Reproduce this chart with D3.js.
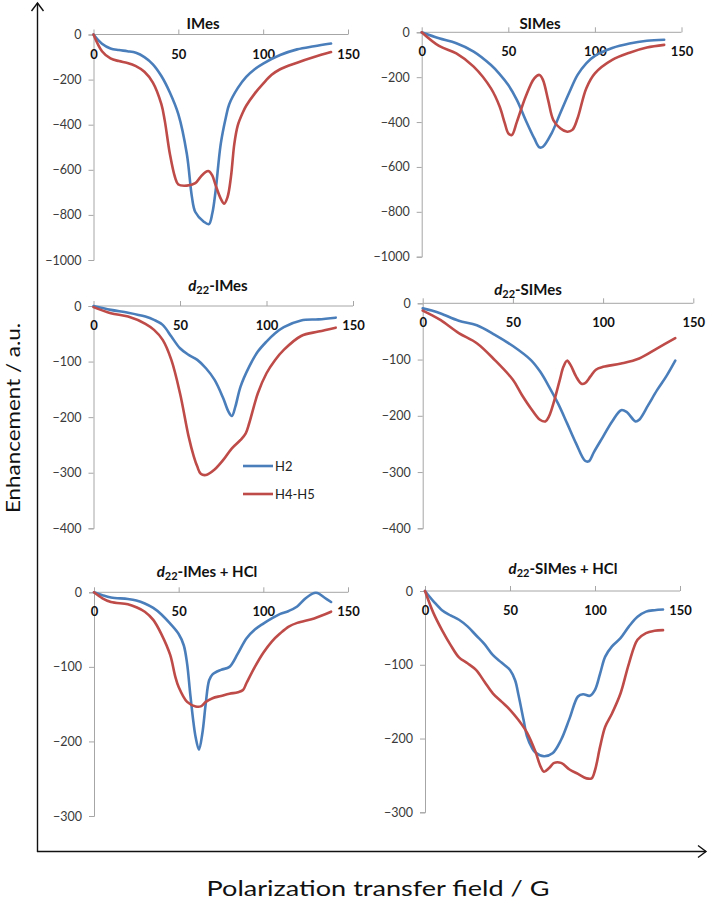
<!DOCTYPE html>
<html>
<head>
<meta charset="utf-8">
<script src="https://cdn.jsdelivr.net/npm/d3@7"></script>
<style>
  html, body { margin: 0; padding: 0; background: #fff; }
  svg { display: block; }
</style>
</head>
<body>
<div id="chart"></div>
<script>
// ---------------- DATA ----------------
const seriesNames = ["H2", "H4-H5"];
const xTickValues = [0, 50, 100, 150];
const yTicksWide = [0, -200, -400, -600, -800, -1000];
const yTicksMid = [0, -100, -200, -300, -400];
const yTicksSmall = [0, -100, -200, -300];

// IMes
const imesH2X  = [0, 5, 10, 15, 20, 25, 30, 35, 40, 45, 50, 55, 58, 60, 65, 68, 70, 72, 75, 78, 80, 85, 90, 95, 100, 110, 120, 130, 140];
const imesH2Y  = [0, -41, -62, -69, -74, -81, -100, -132, -184, -257, -353, -529, -720, -787, -830, -841, -794, -691, -485, -368, -309, -238, -188, -154, -129, -91, -66, -52, -40];
const imesH45X = [0, 5, 10, 15, 20, 25, 30, 35, 40, 42, 45, 48, 50, 55, 60, 63, 66, 68, 70, 72, 75, 77, 79, 81, 83, 85, 88, 90, 95, 100, 105, 110, 120, 130, 140];
const imesH45Y = [0, -74, -106, -118, -126, -140, -165, -213, -309, -382, -529, -632, -665, -670, -659, -632, -610, -606, -625, -669, -728, -750, -721, -632, -485, -404, -346, -316, -262, -218, -179, -154, -125, -100, -78];

// SIMes
const simesH2X  = [0, 10, 20, 30, 40, 45, 50, 55, 60, 65, 68, 70, 75, 80, 85, 90, 95, 100, 110, 120, 130, 140];
const simesH2Y  = [0, -27, -49, -86, -146, -186, -235, -302, -391, -473, -513, -510, -450, -361, -272, -190, -138, -105, -70, -50, -38, -33];
const simesH45X = [0, 10, 20, 30, 40, 45, 48, 50, 52, 55, 60, 65, 68, 70, 73, 76, 80, 84, 87, 90, 95, 100, 110, 120, 130, 140];
const simesH45Y = [0, -61, -94, -153, -250, -331, -406, -450, -458, -398, -287, -205, -190, -212, -302, -391, -428, -443, -435, -383, -250, -183, -123, -91, -68, -56];

// d22-IMes
const d22imesH2X  = [0, 10, 20, 30, 35, 40, 45, 50, 55, 60, 65, 70, 75, 78, 80, 82, 85, 90, 95, 100, 105, 110, 120, 130, 140];
const d22imesH2Y  = [0, -7, -12, -19, -25, -34, -55, -76, -88, -97, -112, -133, -166, -190, -198, -181, -145, -109, -82, -64, -49, -38, -26, -24, -21];
const d22imesH45X = [0, 10, 20, 30, 35, 40, 45, 50, 55, 58, 60, 62, 65, 70, 75, 80, 85, 88, 90, 95, 100, 105, 110, 120, 130, 140];
const d22imesH45Y = [-2, -13, -19, -32, -43, -61, -97, -157, -235, -271, -289, -302, -304, -294, -277, -256, -241, -229, -211, -157, -121, -97, -79, -54, -46, -39];

// d22-SIMes
const d22simesH2X  = [0, 5, 10, 20, 30, 40, 50, 60, 65, 70, 75, 80, 85, 90, 92, 95, 100, 105, 110, 113, 118, 120, 125, 130, 135, 140];
const d22simesH2Y  = [-9, -13, -18, -31, -39, -56, -76, -101, -121, -148, -178, -213, -249, -280, -281, -264, -237, -210, -190, -193, -210, -207, -181, -154, -130, -102];
const d22simesH45X = [0, 5, 10, 20, 30, 40, 50, 55, 60, 65, 68, 70, 73, 76, 78, 80, 82, 85, 88, 90, 93, 96, 100, 110, 120, 130, 140];
const d22simesH45Y = [-13, -21, -30, -53, -71, -101, -136, -163, -187, -207, -210, -201, -172, -136, -113, -102, -110, -130, -143, -142, -130, -118, -113, -107, -98, -80, -62];

// d22-IMes + HCl
const hclImesH2X  = [0, 5, 10, 20, 25, 30, 35, 40, 45, 50, 53, 55, 57, 60, 62, 64, 66, 68, 70, 75, 80, 85, 90, 95, 100, 105, 110, 115, 120, 125, 130, 132, 136, 140];
const hclImesH2Y  = [0, -4, -7, -9, -11, -15, -21, -30, -42, -56, -71, -96, -140, -194, -211, -189, -149, -118, -110, -104, -100, -82, -62, -50, -42, -35, -29, -25, -19, -8, -1, -1, -7, -13];
const hclImesH45X = [0, 5, 10, 20, 25, 30, 35, 40, 45, 48, 50, 55, 60, 63, 66, 70, 75, 80, 85, 88, 90, 95, 100, 105, 110, 115, 120, 130, 140];
const hclImesH45Y = [0, -8, -13, -16, -20, -26, -37, -57, -84, -113, -127, -147, -153, -153, -147, -142, -139, -136, -134, -131, -122, -100, -81, -66, -55, -46, -41, -35, -26];

// d22-SIMes + HCl
const hclSimesH2X  = [0, 5, 10, 15, 20, 25, 30, 35, 40, 45, 50, 53, 55, 58, 60, 63, 65, 70, 75, 80, 85, 90, 93, 97, 100, 103, 106, 110, 115, 120, 125, 130, 135, 140];
const hclSimesH2Y  = [0, -14, -26, -33, -39, -48, -60, -72, -87, -97, -107, -121, -141, -175, -197, -213, -219, -224, -220, -202, -173, -143, -140, -142, -134, -112, -89, -75, -64, -48, -35, -28, -26, -25];
const hclSimesH45X = [0, 5, 10, 15, 20, 25, 30, 35, 40, 45, 50, 55, 60, 65, 68, 70, 73, 76, 80, 85, 90, 95, 98, 100, 103, 106, 110, 115, 120, 125, 130, 135, 140];
const hclSimesH45Y = [0, -30, -53, -73, -90, -98, -107, -123, -139, -150, -161, -175, -192, -218, -238, -245, -240, -233, -233, -242, -248, -254, -254, -243, -211, -184, -166, -139, -98, -66, -57, -54, -53];

// ---------------- LAYOUT ----------------
const W = 709, H = 901;
const colors = ["#4a7ebb", "#be4b48"];

const panels = [
  { title: [{t: "IMes"}], tx: 203, ty: 29,
    xL: 93.5, xR: 348, yT: 34.5, yB: 260, yMin: -1000, yTicks: yTicksWide,
    series: [[imesH2X, imesH2Y], [imesH45X, imesH45Y]] },
  { title: [{t: "SIMes"}], tx: 540, ty: 29,
    xL: 421.7, xR: 681.5, yT: 32.3, yB: 256.7, yMin: -1000, yTicks: yTicksWide,
    series: [[simesH2X, simesH2Y], [simesH45X, simesH45Y]] },
  { title: [{t: "d", i: true}, {t: "22", sub: true}, {t: "-IMes"}], tx: 218, ty: 291,
    xL: 93.5, xR: 353, yT: 306, yB: 528.3, yMin: -400, yTicks: yTicksMid,
    series: [[d22imesH2X, d22imesH2Y], [d22imesH45X, d22imesH45Y]], legend: true },
  { title: [{t: "d", i: true}, {t: "22", sub: true}, {t: "-SIMes"}], tx: 528, ty: 295,
    xL: 422.7, xR: 693.3, yT: 303.3, yB: 528.3, yMin: -400, yTicks: yTicksMid,
    series: [[d22simesH2X, d22simesH2Y], [d22simesH45X, d22simesH45Y]] },
  { title: [{t: "d", i: true}, {t: "22", sub: true}, {t: "-IMes + HCl"}], tx: 207, ty: 577,
    xL: 94, xR: 348, yT: 592.3, yB: 816, yMin: -300, yTicks: yTicksSmall,
    series: [[hclImesH2X, hclImesH2Y], [hclImesH45X, hclImesH45Y]] },
  { title: [{t: "d", i: true}, {t: "22", sub: true}, {t: "-SIMes + HCl"}], tx: 563, ty: 574,
    xL: 425, xR: 680, yT: 591, yB: 812.3, yMin: -300, yTicks: yTicksSmall,
    series: [[hclSimesH2X, hclSimesH2Y], [hclSimesH45X, hclSimesH45Y]] }
];

const svg = d3.select("#chart").append("svg")
  .attr("width", W).attr("height", H)
  .attr("viewBox", `0 0 ${W} ${H}`)
  .style("font-family", "Lato, 'Open Sans', sans-serif");

svg.append("rect").attr("width", W).attr("height", H).attr("fill", "#fff");

const axisColor = "#a6a6a6";

panels.forEach(p => {
  const x = d3.scaleLinear().domain([0, 150]).range([p.xL, p.xR]);
  const y = d3.scaleLinear().domain([0, p.yMin]).range([p.yT, p.yB]);
  const g = svg.append("g");

  // Y axis
  const yAxis = d3.axisLeft(y).tickValues(p.yTicks).tickSize(5).tickPadding(7).tickFormat(d3.format("d"));
  const ya = g.append("g").attr("transform", `translate(${p.xL},0)`).call(yAxis);
  ya.select(".domain").attr("stroke", axisColor).attr("stroke-width", 1);
  ya.selectAll(".tick line").attr("stroke", axisColor);
  ya.selectAll(".tick text").attr("fill", "#3a3a3a").style("font-size", "12.5px")
    .style("font-family", "Lato, sans-serif");

  // X axis (at y = 0, ticks upward, labels below)
  const xAxis = d3.axisTop(x).tickValues(xTickValues).tickSize(5).tickFormat(d3.format("d"));
  const xa = g.append("g").attr("transform", `translate(0,${y(0)})`).call(xAxis);
  xa.select(".domain").attr("stroke", axisColor).attr("stroke-width", 1).attr("d", `M${p.xL},0H${p.xR}`);
  xa.selectAll(".tick line").attr("stroke", axisColor);
  xa.selectAll(".tick text").attr("fill", "#111").style("font-size", "13px")
    .style("font-weight", "bold").attr("y", 24).attr("dy", 0)
    .style("font-family", "Lato, sans-serif");

  // Lines
  const line = d3.line().curve(d3.curveCatmullRom.alpha(0.5))
    .x(d => x(d[0])).y(d => y(d[1]));
  p.series.forEach((s, i) => {
    const pts = s[0].map((xv, k) => [xv, s[1][k]]);
    g.append("path").datum(pts)
      .attr("d", line)
      .attr("fill", "none")
      .attr("stroke", colors[i])
      .attr("stroke-width", 2.6)
      .attr("stroke-linejoin", "round")
      .attr("stroke-linecap", "round");
  });

  // Title
  const t = g.append("text").attr("x", p.tx).attr("y", p.ty)
    .attr("text-anchor", "middle")
    .style("font-size", "15px").style("font-weight", "bold").attr("fill", "#111");
  p.title.forEach(part => {
    const ts = t.append("tspan").text(part.t);
    if (part.i) ts.style("font-style", "italic");
    if (part.sub) ts.attr("baseline-shift", "-25%").style("font-size", "11px");
  });

  // Legend
  if (p.legend) {
    const ly = [466, 494];
    seriesNames.forEach((n, i) => {
      g.append("line").attr("x1", 243).attr("x2", 273).attr("y1", ly[i]).attr("y2", ly[i])
        .attr("stroke", colors[i]).attr("stroke-width", 2.6);
      g.append("text").attr("x", 275).attr("y", ly[i] + 4.5)
        .style("font-size", "13px").attr("fill", "#222").text(n);
    });
  }
});

// Big axes with arrows
const big = svg.append("g").attr("stroke", "#111").attr("stroke-width", 1.4).attr("fill", "none");
big.append("line").attr("x1", 37.5).attr("y1", 852).attr("x2", 37.5).attr("y2", 3);
big.append("path").attr("d", "M31.5,11 L37.5,3 L43.5,11");
big.append("line").attr("x1", 37).attr("y1", 851.5).attr("x2", 706).attr("y2", 851.5);
big.append("path").attr("d", "M698,845.5 L706,851.5 L698,857.5");

// Axis titles
svg.append("text")
  .attr("transform", "translate(20,418) rotate(-90)")
  .attr("text-anchor", "middle")
  .attr("textLength", 190).attr("lengthAdjust", "spacingAndGlyphs")
  .style("font-size", "19px").attr("fill", "#111")
  .text("Enhancement / a.u.");

svg.append("text")
  .attr("x", 378).attr("y", 896)
  .attr("text-anchor", "middle")
  .attr("textLength", 343).attr("lengthAdjust", "spacingAndGlyphs")
  .style("font-size", "22px").attr("fill", "#111")
  .text("Polarization transfer field / G");
</script>
</body>
</html>
